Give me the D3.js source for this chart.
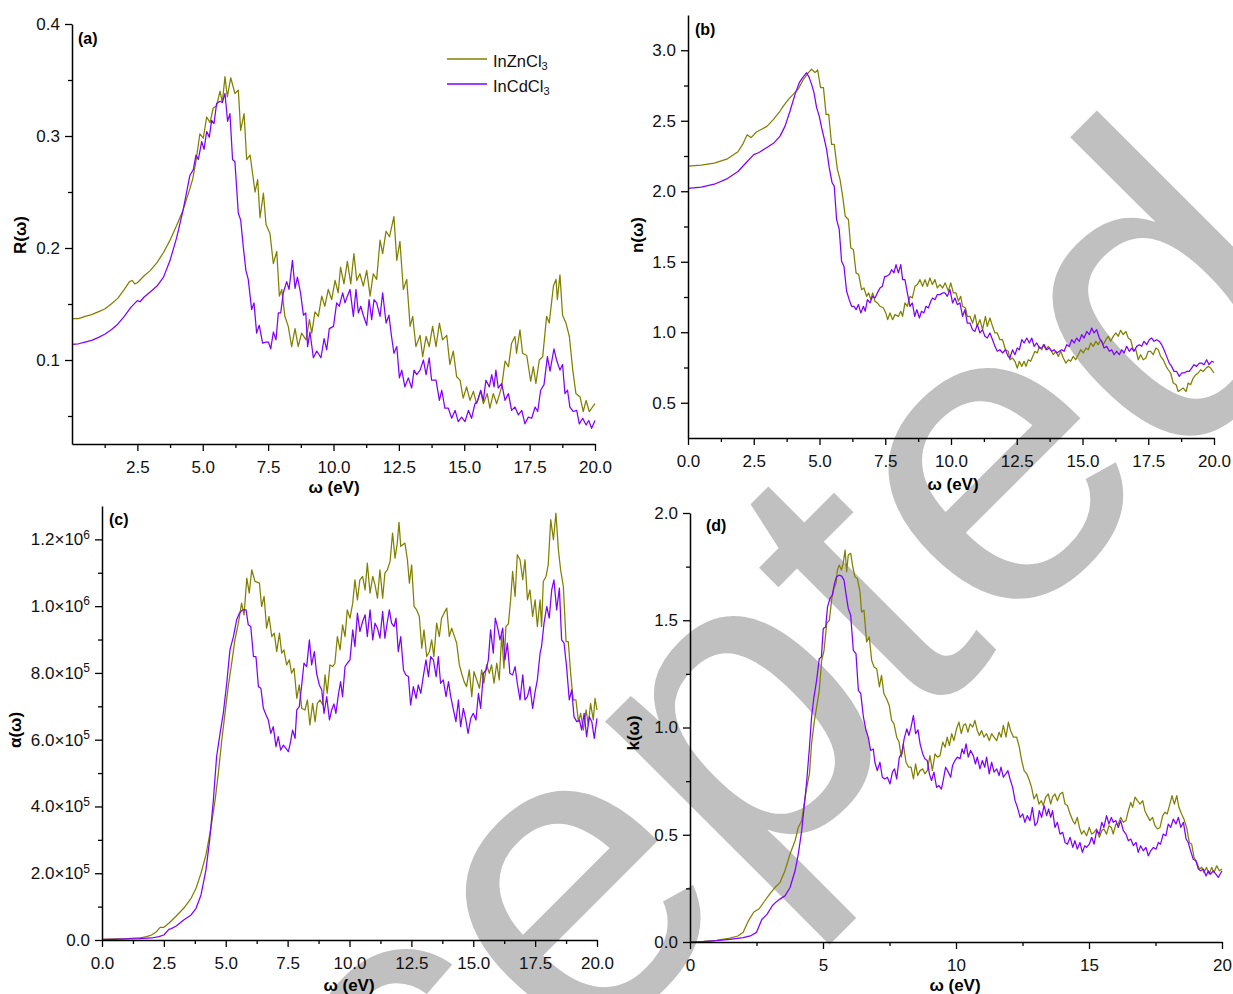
<!DOCTYPE html>
<html><head><meta charset="utf-8">
<script src="https://cdn.jsdelivr.net/npm/d3@7"></script>
<style>
body{margin:0;background:#fff}
svg{display:block}
text{font-family:"Liberation Sans",Arial,sans-serif}
</style></head><body>
<svg id="chart" width="1233" height="994"></svg>
<script>
// ---------------- DATA ([energy eV, value]) ----------------
const seriesNames = ["InZnCl3", "InCdCl3"];
const seriesColors = ["#808000", "#8000ff"];

const R_InZnCl3 = [[0,0.137],[0.25,0.137],[0.5,0.139],[0.75,0.1405],[1,0.143],[1.25,0.1455],[1.5,0.15],[1.75,0.155],[2,0.163],[2.2,0.17],[2.3,0.171],[2.4,0.168],[2.5,0.169],[2.75,0.175],[3,0.18],[3.25,0.187],[3.5,0.196],[3.75,0.207],[4,0.22],[4.25,0.234],[4.51,0.253],[4.62,0.262],[4.75,0.279],[4.89,0.302],[5.02,0.298],[5.15,0.317],[5.28,0.312],[5.4,0.325],[5.53,0.327],[5.66,0.34],[5.75,0.33],[5.85,0.353],[5.94,0.335],[6.07,0.352],[6.23,0.338],[6.36,0.341],[6.45,0.305],[6.58,0.32],[6.68,0.279],[6.81,0.283],[7,0.25],[7.1,0.261],[7.19,0.227],[7.32,0.249],[7.42,0.221],[7.57,0.213],[7.7,0.186],[7.83,0.197],[7.93,0.157],[8.02,0.163],[8.14,0.139],[8.27,0.13],[8.4,0.112],[8.53,0.128],[8.65,0.112],[8.78,0.124],[8.95,0.118],[9.08,0.136],[9.17,0.124],[9.29,0.143],[9.42,0.139],[9.55,0.157],[9.67,0.148],[9.8,0.163],[9.93,0.154],[10.06,0.171],[10.18,0.16],[10.27,0.183],[10.4,0.168],[10.53,0.188],[10.66,0.168],[10.78,0.195],[10.89,0.171],[11.01,0.177],[11.14,0.166],[11.27,0.18],[11.4,0.157],[11.52,0.177],[11.65,0.172],[11.78,0.207],[11.88,0.195],[12.01,0.215],[12.14,0.21],[12.31,0.228],[12.42,0.189],[12.54,0.206],[12.67,0.163],[12.8,0.172],[12.93,0.13],[13.03,0.139],[13.15,0.112],[13.31,0.122],[13.41,0.103],[13.54,0.121],[13.66,0.112],[13.79,0.13],[13.92,0.112],[14.05,0.133],[14.17,0.118],[14.33,0.122],[14.45,0.096],[14.58,0.108],[14.71,0.085],[14.84,0.082],[14.96,0.066],[15.09,0.076],[15.22,0.064],[15.35,0.072],[15.47,0.061],[15.63,0.072],[15.73,0.061],[15.88,0.07],[15.98,0.057],[16.11,0.07],[16.24,0.061],[16.43,0.076],[16.56,0.099],[16.69,0.094],[16.81,0.115],[16.94,0.121],[17,0.106],[17.13,0.127],[17.23,0.106],[17.39,0.104],[17.54,0.081],[17.64,0.094],[17.74,0.079],[17.87,0.1],[18,0.103],[18.15,0.139],[18.25,0.133],[18.41,0.166],[18.51,0.172],[18.56,0.154],[18.66,0.176],[18.76,0.14],[18.89,0.133],[19.02,0.121],[19.15,0.091],[19.27,0.07],[19.43,0.067],[19.55,0.054],[19.66,0.064],[19.78,0.054],[20,0.061]];

const R_InCdCl3 = [[0,0.114],[0.25,0.1145],[0.5,0.116],[0.75,0.1175],[1,0.12],[1.25,0.123],[1.5,0.127],[1.75,0.132],[2,0.139],[2.25,0.147],[2.5,0.153],[2.6,0.152],[2.75,0.156],[3,0.161],[3.25,0.166],[3.5,0.174],[3.75,0.189],[4,0.209],[4.25,0.234],[4.4,0.252],[4.51,0.265],[4.64,0.27],[4.74,0.283],[4.83,0.279],[4.96,0.295],[5.05,0.288],[5.15,0.304],[5.25,0.299],[5.34,0.314],[5.43,0.311],[5.53,0.329],[5.66,0.331],[5.75,0.33],[5.85,0.338],[5.95,0.313],[6.04,0.32],[6.14,0.279],[6.23,0.277],[6.36,0.231],[6.45,0.225],[6.55,0.201],[6.65,0.18],[6.74,0.172],[6.87,0.145],[6.96,0.151],[7.06,0.124],[7.16,0.131],[7.29,0.115],[7.42,0.116],[7.51,0.116],[7.6,0.11],[7.7,0.125],[7.8,0.118],[7.89,0.142],[7.98,0.142],[8.08,0.16],[8.21,0.17],[8.3,0.163],[8.43,0.189],[8.53,0.164],[8.62,0.174],[8.74,0.16],[8.85,0.14],[8.94,0.142],[9.01,0.112],[9.1,0.125],[9.23,0.102],[9.36,0.108],[9.52,0.102],[9.64,0.119],[9.74,0.109],[9.84,0.128],[10,0.13],[10.12,0.151],[10.22,0.148],[10.35,0.16],[10.44,0.151],[10.53,0.157],[10.63,0.163],[10.76,0.139],[10.86,0.163],[10.95,0.142],[11.04,0.148],[11.14,0.14],[11.27,0.131],[11.36,0.154],[11.46,0.136],[11.55,0.154],[11.65,0.151],[11.78,0.139],[11.88,0.16],[12.01,0.133],[12.12,0.14],[12.22,0.121],[12.31,0.106],[12.42,0.112],[12.52,0.084],[12.61,0.091],[12.73,0.076],[12.86,0.084],[12.99,0.075],[13.08,0.091],[13.18,0.087],[13.31,0.091],[13.44,0.1],[13.54,0.087],[13.66,0.102],[13.75,0.082],[13.92,0.082],[14.05,0.064],[14.14,0.073],[14.26,0.057],[14.39,0.057],[14.52,0.048],[14.65,0.055],[14.77,0.045],[14.9,0.049],[15.03,0.045],[15.16,0.055],[15.28,0.048],[15.41,0.061],[15.5,0.063],[15.63,0.073],[15.73,0.064],[15.83,0.082],[15.96,0.076],[16.05,0.087],[16.14,0.076],[16.21,0.091],[16.3,0.075],[16.43,0.079],[16.56,0.064],[16.69,0.07],[16.81,0.055],[16.94,0.058],[17.07,0.051],[17.2,0.055],[17.32,0.043],[17.45,0.049],[17.58,0.048],[17.71,0.058],[17.81,0.054],[17.92,0.073],[18.05,0.078],[18.18,0.103],[18.28,0.09],[18.43,0.11],[18.53,0.1],[18.66,0.091],[18.76,0.096],[18.85,0.07],[18.95,0.073],[19.04,0.058],[19.17,0.054],[19.3,0.055],[19.4,0.043],[19.53,0.048],[19.66,0.042],[19.76,0.046],[19.87,0.039],[20,0.046]];

const n_InZnCl3 = [[0,2.178],[0.5,2.185],[1,2.2],[1.5,2.23],[1.9,2.28],[2.1,2.34],[2.25,2.4],[2.4,2.38],[2.6,2.42],[2.8,2.44],[3,2.46],[3.25,2.51],[3.5,2.569],[3.63,2.605],[3.82,2.652],[4,2.687],[4.2,2.728],[4.39,2.794],[4.58,2.841],[4.7,2.865],[4.83,2.841],[4.93,2.86],[5.04,2.735],[5.15,2.735],[5.25,2.545],[5.35,2.545],[5.46,2.332],[5.56,2.332],[5.68,2.155],[5.78,2.084],[5.88,1.965],[5.98,1.823],[6.1,1.8],[6.19,1.598],[6.29,1.587],[6.39,1.421],[6.49,1.409],[6.6,1.302],[6.69,1.314],[6.79,1.255],[6.87,1.279],[6.95,1.231],[7.02,1.279],[7.11,1.22],[7.2,1.208],[7.3,1.184],[7.43,1.172],[7.52,1.137],[7.59,1.089],[7.68,1.137],[7.78,1.089],[7.87,1.125],[8,1.113],[8.09,1.149],[8.16,1.113],[8.25,1.208],[8.34,1.184],[8.44,1.255],[8.53,1.243],[8.63,1.326],[8.72,1.338],[8.82,1.373],[8.92,1.326],[9.01,1.373],[9.1,1.326],[9.2,1.385],[9.29,1.338],[9.39,1.373],[9.48,1.314],[9.58,1.338],[9.68,1.314],[9.78,1.35],[9.9,1.291],[9.99,1.35],[10.09,1.279],[10.19,1.279],[10.28,1.22],[10.37,1.255],[10.44,1.184],[10.55,1.172],[10.62,1.113],[10.72,1.113],[10.82,1.065],[10.91,1.125],[11,1.042],[11.1,1.089],[11.2,1.018],[11.31,1.113],[11.38,1.042],[11.48,1.101],[11.58,1.042],[11.67,0.995],[11.76,0.995],[11.86,0.947],[11.96,0.947],[12.07,0.876],[12.18,0.865],[12.24,0.805],[12.34,0.817],[12.43,0.794],[12.52,0.746],[12.6,0.794],[12.69,0.758],[12.78,0.794],[12.85,0.758],[12.94,0.805],[13.03,0.794],[13.11,0.829],[13.19,0.865],[13.28,0.853],[13.36,0.9],[13.45,0.876],[13.51,0.912],[13.61,0.876],[13.7,0.9],[13.79,0.876],[13.89,0.841],[13.99,0.865],[14.08,0.829],[14.17,0.865],[14.27,0.817],[14.37,0.781],[14.46,0.805],[14.55,0.794],[14.65,0.829],[14.74,0.805],[14.84,0.841],[14.93,0.876],[15.03,0.853],[15.13,0.888],[15.22,0.876],[15.31,0.924],[15.41,0.9],[15.51,0.936],[15.6,0.912],[15.69,0.947],[15.79,0.912],[15.89,0.947],[15.98,0.971],[16.07,0.936],[16.17,0.971],[16.27,0.995],[16.36,0.971],[16.45,1.014],[16.55,0.983],[16.65,1.006],[16.74,0.959],[16.83,0.947],[16.93,0.876],[17.03,0.876],[17.12,0.805],[17.21,0.841],[17.31,0.805],[17.41,0.817],[17.5,0.865],[17.59,0.865],[17.69,0.841],[17.79,0.888],[17.88,0.876],[17.97,0.829],[18.07,0.805],[18.18,0.758],[18.26,0.734],[18.35,0.711],[18.45,0.64],[18.56,0.628],[18.64,0.58],[18.73,0.592],[18.83,0.604],[18.94,0.58],[19.02,0.64],[19.11,0.628],[19.21,0.675],[19.31,0.699],[19.4,0.711],[19.49,0.734],[19.59,0.722],[19.7,0.746],[19.79,0.758],[19.87,0.746],[20,0.711]];

const n_InCdCl3 = [[0,2.02],[0.5,2.03],[1,2.05],[1.5,2.09],[1.9,2.14],[2.2,2.2],[2.5,2.26],[2.7,2.275],[3,2.31],[3.25,2.34],[3.5,2.391],[3.69,2.462],[3.88,2.569],[4.07,2.687],[4.23,2.77],[4.36,2.806],[4.51,2.841],[4.61,2.806],[4.7,2.758],[4.79,2.699],[4.89,2.593],[4.99,2.533],[5.08,2.451],[5.17,2.38],[5.27,2.297],[5.37,2.167],[5.48,2.06],[5.56,2.036],[5.65,1.8],[5.75,1.729],[5.84,1.504],[5.93,1.468],[6.03,1.291],[6.13,1.231],[6.22,1.184],[6.31,1.184],[6.39,1.16],[6.48,1.196],[6.57,1.137],[6.67,1.184],[6.74,1.149],[6.82,1.231],[6.92,1.208],[7.02,1.255],[7.11,1.243],[7.2,1.279],[7.3,1.314],[7.39,1.326],[7.48,1.397],[7.55,1.397],[7.66,1.409],[7.74,1.444],[7.83,1.421],[7.91,1.48],[8,1.421],[8.09,1.48],[8.16,1.373],[8.25,1.373],[8.34,1.279],[8.44,1.184],[8.53,1.208],[8.62,1.113],[8.7,1.16],[8.8,1.101],[8.88,1.149],[8.97,1.137],[9.05,1.184],[9.14,1.172],[9.23,1.22],[9.3,1.243],[9.39,1.231],[9.48,1.267],[9.58,1.267],[9.68,1.279],[9.77,1.279],[9.86,1.255],[9.96,1.302],[10.06,1.208],[10.15,1.243],[10.24,1.196],[10.34,1.208],[10.44,1.113],[10.53,1.16],[10.62,1.065],[10.72,1.065],[10.82,1.018],[10.91,1.006],[11,1.054],[11.1,0.995],[11.2,1.018],[11.29,0.971],[11.38,0.959],[11.48,0.995],[11.58,0.947],[11.67,0.9],[11.76,0.865],[11.86,0.876],[11.96,0.853],[12.07,0.876],[12.17,0.829],[12.24,0.817],[12.34,0.876],[12.43,0.841],[12.52,0.888],[12.6,0.876],[12.69,0.947],[12.78,0.924],[12.88,0.959],[12.98,0.924],[13.07,0.959],[13.16,0.9],[13.26,0.924],[13.36,0.888],[13.45,0.888],[13.54,0.912],[13.64,0.876],[13.74,0.888],[13.83,0.865],[13.92,0.876],[14.02,0.853],[14.12,0.865],[14.21,0.876],[14.3,0.865],[14.4,0.912],[14.5,0.9],[14.59,0.947],[14.68,0.924],[14.78,0.959],[14.88,0.936],[14.97,0.983],[15.06,0.959],[15.16,1.006],[15.26,0.983],[15.35,1.03],[15.44,0.995],[15.54,1.018],[15.64,0.959],[15.73,0.936],[15.82,0.888],[15.92,0.9],[16.02,0.865],[16.11,0.876],[16.2,0.841],[16.3,0.865],[16.4,0.841],[16.49,0.876],[16.58,0.853],[16.68,0.9],[16.78,0.865],[16.87,0.888],[16.96,0.865],[17.06,0.9],[17.16,0.912],[17.25,0.9],[17.34,0.936],[17.44,0.912],[17.54,0.947],[17.63,0.959],[17.72,0.936],[17.82,0.947],[17.92,0.936],[18.01,0.912],[18.1,0.876],[18.2,0.829],[18.3,0.781],[18.39,0.758],[18.48,0.722],[18.58,0.722],[18.68,0.687],[18.77,0.711],[18.86,0.711],[18.96,0.722],[19.06,0.722],[19.15,0.746],[19.24,0.77],[19.34,0.758],[19.44,0.781],[19.53,0.781],[19.62,0.77],[19.72,0.805],[19.81,0.77],[19.91,0.794],[20,0.787]];

// absorption coefficient, in units of 1e5
const alpha_InZnCl3 = [[0,0.02],[0.5,0.03],[1,0.04],[1.5,0.06],[1.8,0.1],[2,0.15],[2.2,0.25],[2.35,0.38],[2.5,0.38],[2.7,0.5],[3,0.72],[3.3,0.95],[3.6,1.25],[3.8,1.55],[4,2],[4.2,2.55],[4.4,3.35],[4.57,4.19],[4.7,4.99],[4.84,5.99],[4.97,6.79],[5.1,7.59],[5.24,8.29],[5.37,8.99],[5.51,9.49],[5.64,10.09],[5.74,9.74],[5.85,10.84],[5.95,10.39],[6.05,11.09],[6.18,10.74],[6.36,10.69],[6.45,9.99],[6.55,10.29],[6.65,9.34],[6.75,9.69],[6.86,9.09],[6.96,9.19],[7.06,8.64],[7.17,9.19],[7.26,8.59],[7.35,8.69],[7.46,8.24],[7.57,8.39],[7.66,7.99],[7.76,8.14],[7.87,7.24],[7.97,7.64],[8.07,6.94],[8.2,6.89],[8.3,7.19],[8.4,6.44],[8.51,7.09],[8.61,6.54],[8.7,7.09],[8.81,7.19],[8.92,7.04],[9.01,7.94],[9.1,7.39],[9.21,8.24],[9.32,8.19],[9.41,8.29],[9.51,9.09],[9.62,8.69],[9.72,9.44],[9.82,9.09],[9.91,9.89],[10.02,9.64],[10.13,10.09],[10.22,10.79],[10.32,10.19],[10.42,10.79],[10.53,10.89],[10.63,10.49],[10.72,11.29],[10.83,10.39],[10.94,10.89],[11.03,10.64],[11.13,10.24],[11.23,11.09],[11.34,10.24],[11.43,10.99],[11.53,11.09],[11.64,11.34],[11.74,12.19],[11.84,11.44],[11.93,11.89],[12,12.51],[12.07,11.79],[12.15,11.84],[12.24,11.89],[12.34,11.39],[12.42,10.69],[12.51,11.24],[12.61,9.99],[12.71,9.89],[12.82,9.69],[12.92,8.74],[13.01,9.29],[13.12,8.49],[13.23,8.64],[13.32,8.99],[13.41,8.49],[13.52,9.49],[13.63,9.09],[13.72,9.64],[13.82,9.79],[13.93,9.94],[14.03,9.09],[14.13,9.34],[14.22,9.14],[14.33,8.89],[14.44,8.24],[14.53,7.99],[14.63,7.74],[14.73,7.59],[14.84,8.09],[14.94,7.29],[15.03,8.04],[15.14,7.79],[15.25,7.54],[15.34,8.09],[15.43,7.69],[15.54,8.24],[15.65,7.99],[15.74,8.24],[15.84,7.69],[15.95,8.29],[16.05,7.79],[16.15,9.14],[16.24,8.14],[16.32,9.39],[16.42,9.47],[16.51,10.19],[16.59,11.04],[16.69,10.29],[16.78,11.54],[16.89,11.39],[17,10.79],[17.09,11.39],[17.19,10.19],[17.29,10.49],[17.4,9.69],[17.5,10.19],[17.59,9.39],[17.7,10.19],[17.76,9.39],[17.83,10.74],[17.94,10.89],[18.03,11.24],[18.13,12.59],[18.24,11.99],[18.34,12.79],[18.44,11.69],[18.53,11.09],[18.64,10.59],[18.75,8.94],[18.84,8.94],[18.94,7.94],[19.04,7.19],[19.15,7.19],[19.25,6.54],[19.34,6.79],[19.45,6.29],[19.56,6.89],[19.65,6.44],[19.74,7.09],[19.85,6.59],[19.92,7.24],[20,6.89]];

const alpha_InCdCl3 = [[0,0.02],[0.5,0.02],[1,0.03],[1.5,0.04],[2,0.06],[2.3,0.1],[2.5,0.15],[2.7,0.32],[2.8,0.34],[3,0.42],[3.3,0.6],[3.6,0.75],[3.8,0.95],[4,1.35],[4.2,2.1],[4.35,3],[4.5,4.19],[4.63,5.49],[4.77,6.19],[4.9,6.79],[5.04,7.69],[5.17,8.69],[5.31,9.09],[5.44,9.59],[5.55,9.79],[5.68,9.89],[5.82,9.89],[5.91,9.44],[6.01,9.39],[6.12,8.49],[6.22,8.49],[6.32,7.59],[6.42,7.54],[6.52,6.94],[6.63,6.74],[6.72,6.59],[6.82,6.19],[6.92,6.39],[7.03,5.79],[7.12,6.09],[7.22,5.69],[7.33,5.84],[7.43,5.74],[7.53,5.64],[7.62,5.94],[7.7,6.29],[7.8,6.04],[7.87,6.89],[7.97,6.99],[8.07,7.64],[8.16,8.29],[8.27,8.19],[8.38,8.99],[8.47,8.24],[8.58,8.64],[8.67,7.99],[8.78,7.64],[8.88,7.49],[8.97,6.79],[9.08,7.29],[9.19,6.59],[9.28,6.89],[9.37,7.07],[9.45,6.79],[9.55,7.34],[9.64,7.74],[9.72,7.29],[9.82,8.19],[9.91,8.29],[10.02,8.39],[10.13,9.29],[10.22,8.79],[10.32,9.79],[10.42,9.24],[10.53,9.54],[10.63,9.74],[10.72,9.09],[10.83,9.89],[10.94,8.99],[11.03,9.49],[11.13,9.34],[11.23,9.04],[11.34,9.84],[11.43,9.04],[11.53,9.54],[11.61,9.89],[11.7,9.49],[11.8,9.39],[11.88,9.64],[11.97,8.64],[12.07,9.09],[12.18,8.09],[12.28,7.94],[12.38,7.89],[12.47,7.04],[12.58,7.59],[12.69,7.24],[12.78,7.64],[12.88,7.39],[12.98,7.89],[13.09,8.39],[13.19,7.89],[13.28,8.49],[13.39,8.39],[13.5,7.89],[13.59,8.49],[13.68,7.69],[13.79,7.79],[13.9,7.29],[14,7.74],[14.09,7.29],[14.2,6.89],[14.3,6.54],[14.4,7.19],[14.49,6.39],[14.6,6.94],[14.69,6.64],[14.79,6.19],[14.9,6.64],[15,6.79],[15.11,6.59],[15.21,7.39],[15.3,6.94],[15.41,7.99],[15.52,8.09],[15.61,8.39],[15.7,9.29],[15.81,8.59],[15.89,9.64],[15.99,9.34],[16.08,8.99],[16.19,9.34],[16.28,8.39],[16.38,8.89],[16.48,7.99],[16.59,7.94],[16.69,8.19],[16.78,7.69],[16.89,7.19],[17,7.94],[17.09,7.19],[17.19,7.29],[17.29,7.59],[17.4,6.94],[17.5,7.44],[17.59,7.79],[17.7,8.59],[17.76,8.79],[17.86,9.49],[17.97,9.99],[18.07,9.64],[18.17,10.49],[18.26,10.79],[18.37,9.89],[18.48,10.54],[18.57,8.99],[18.67,8.89],[18.77,8.19],[18.88,7.19],[18.98,7.49],[19.07,6.69],[19.18,6.54],[19.29,6.59],[19.38,6.29],[19.48,6.79],[19.58,6.09],[19.69,6.69],[19.79,6.54],[19.89,6.04],[20,6.64]];

const k_InZnCl3 = [[0,0],[0.5,0.003],[1,0.008],[1.5,0.018],[1.8,0.028],[2,0.045],[2.2,0.1],[2.4,0.14],[2.6,0.155],[2.8,0.19],[3,0.224],[3.2,0.255],[3.38,0.277],[3.57,0.332],[3.76,0.41],[3.95,0.472],[4.07,0.534],[4.2,0.566],[4.29,0.643],[4.39,0.721],[4.49,0.784],[4.57,0.924],[4.67,1.025],[4.76,1.095],[4.86,1.173],[4.95,1.313],[5.04,1.36],[5.14,1.485],[5.24,1.5],[5.33,1.601],[5.41,1.648],[5.49,1.671],[5.54,1.734],[5.61,1.757],[5.69,1.734],[5.76,1.765],[5.83,1.827],[5.89,1.726],[5.95,1.804],[6.04,1.812],[6.12,1.749],[6.2,1.703],[6.29,1.695],[6.39,1.633],[6.45,1.539],[6.54,1.547],[6.64,1.399],[6.74,1.422],[6.83,1.313],[6.92,1.282],[7.02,1.274],[7.12,1.189],[7.2,1.243],[7.29,1.157],[7.39,1.134],[7.49,1.103],[7.58,1.033],[7.67,1.017],[7.77,0.955],[7.86,0.932],[7.94,0.862],[8.02,0.924],[8.12,0.838],[8.22,0.815],[8.31,0.815],[8.4,0.76],[8.48,0.83],[8.56,0.776],[8.65,0.799],[8.75,0.807],[8.83,0.784],[8.92,0.799],[9.02,0.869],[9.11,0.799],[9.21,0.877],[9.3,0.862],[9.4,0.869],[9.5,0.932],[9.59,0.908],[9.67,0.955],[9.75,0.916],[9.84,0.971],[9.92,0.939],[10.02,0.994],[10.11,1.025],[10.2,0.971],[10.28,1.01],[10.36,1.017],[10.45,0.978],[10.53,1.017],[10.63,1.002],[10.71,1.033],[10.8,0.986],[10.88,0.963],[10.96,0.986],[11.05,0.955],[11.15,0.971],[11.25,0.939],[11.34,0.971],[11.43,0.955],[11.53,0.939],[11.62,0.978],[11.7,0.955],[11.78,1.01],[11.88,0.955],[11.97,1.025],[12.05,0.986],[12.16,0.955],[12.28,0.955],[12.38,0.908],[12.47,0.846],[12.56,0.799],[12.66,0.784],[12.76,0.753],[12.84,0.721],[12.93,0.667],[13.03,0.69],[13.12,0.643],[13.21,0.659],[13.28,0.636],[13.37,0.675],[13.47,0.69],[13.56,0.643],[13.63,0.675],[13.72,0.69],[13.81,0.659],[13.91,0.69],[14.01,0.698],[14.1,0.643],[14.19,0.636],[14.29,0.597],[14.39,0.566],[14.47,0.55],[14.56,0.581],[14.64,0.534],[14.72,0.503],[14.81,0.519],[14.91,0.495],[15.01,0.534],[15.1,0.503],[15.19,0.511],[15.29,0.527],[15.39,0.488],[15.48,0.519],[15.56,0.527],[15.66,0.503],[15.75,0.542],[15.84,0.534],[15.91,0.503],[16.01,0.55],[16.1,0.55],[16.19,0.581],[16.29,0.558],[16.39,0.566],[16.48,0.612],[16.57,0.651],[16.64,0.628],[16.73,0.675],[16.82,0.659],[16.92,0.643],[17.02,0.659],[17.1,0.612],[17.19,0.589],[17.29,0.566],[17.39,0.581],[17.48,0.542],[17.57,0.527],[17.67,0.534],[17.77,0.589],[17.86,0.605],[17.94,0.597],[18.04,0.643],[18.12,0.682],[18.21,0.643],[18.3,0.682],[18.38,0.628],[18.48,0.597],[18.57,0.573],[18.67,0.534],[18.77,0.464],[18.86,0.456],[18.95,0.394],[19.05,0.371],[19.15,0.34],[19.24,0.348],[19.32,0.324],[19.42,0.348],[19.52,0.316],[19.61,0.348],[19.7,0.324],[19.8,0.355],[19.9,0.332],[20,0.34]];

const k_InCdCl3 = [[0,0],[0.5,0.002],[1,0.006],[1.5,0.012],[2,0.02],[2.3,0.03],[2.5,0.045],[2.7,0.105],[2.9,0.13],[3.1,0.17],[3.25,0.188],[3.38,0.2],[3.57,0.215],[3.76,0.254],[3.95,0.332],[4.07,0.41],[4.2,0.519],[4.29,0.628],[4.39,0.753],[4.49,0.908],[4.57,1.048],[4.66,1.142],[4.76,1.22],[4.86,1.321],[4.94,1.329],[5.01,1.461],[5.1,1.469],[5.17,1.562],[5.26,1.601],[5.35,1.617],[5.43,1.671],[5.51,1.703],[5.61,1.71],[5.7,1.706],[5.79,1.687],[5.86,1.625],[5.95,1.555],[6.04,1.524],[6.14,1.36],[6.24,1.344],[6.33,1.173],[6.42,1.158],[6.52,1.048],[6.62,0.986],[6.7,0.955],[6.79,0.893],[6.89,0.9],[6.95,0.838],[7.04,0.799],[7.14,0.838],[7.23,0.768],[7.32,0.76],[7.42,0.768],[7.52,0.737],[7.61,0.792],[7.69,0.807],[7.77,0.76],[7.87,0.862],[7.96,0.877],[8.05,0.947],[8.15,0.994],[8.23,0.963],[8.31,1.002],[8.4,1.056],[8.48,0.971],[8.57,0.989],[8.65,0.924],[8.75,0.877],[8.83,0.854],[8.92,0.846],[9,0.784],[9.08,0.753],[9.17,0.792],[9.27,0.721],[9.36,0.729],[9.45,0.713],[9.52,0.753],[9.61,0.815],[9.71,0.792],[9.8,0.768],[9.87,0.823],[9.96,0.846],[10.05,0.862],[10.15,0.854],[10.23,0.9],[10.3,0.877],[10.38,0.924],[10.46,0.862],[10.55,0.893],[10.65,0.869],[10.73,0.83],[10.8,0.862],[10.9,0.807],[10.99,0.846],[11.08,0.815],[11.15,0.862],[11.25,0.784],[11.34,0.838],[11.43,0.792],[11.53,0.807],[11.62,0.776],[11.69,0.815],[11.78,0.768],[11.87,0.784],[11.95,0.799],[12.03,0.76],[12.13,0.721],[12.22,0.659],[12.31,0.628],[12.41,0.581],[12.51,0.597],[12.59,0.558],[12.68,0.589],[12.78,0.566],[12.87,0.628],[12.97,0.542],[13.06,0.558],[13.13,0.612],[13.22,0.581],[13.31,0.636],[13.41,0.589],[13.48,0.62],[13.56,0.581],[13.63,0.612],[13.72,0.534],[13.81,0.558],[13.91,0.503],[14.01,0.511],[14.1,0.464],[14.19,0.456],[14.29,0.488],[14.39,0.441],[14.47,0.472],[14.56,0.433],[14.66,0.464],[14.75,0.418],[14.84,0.449],[14.91,0.441],[15.01,0.456],[15.1,0.488],[15.19,0.456],[15.29,0.519],[15.39,0.503],[15.48,0.558],[15.56,0.534],[15.66,0.589],[15.75,0.55],[15.84,0.581],[15.91,0.558],[16.01,0.566],[16.1,0.534],[16.19,0.566],[16.29,0.519],[16.39,0.503],[16.48,0.472],[16.57,0.48],[16.67,0.449],[16.77,0.464],[16.85,0.418],[16.94,0.449],[17.04,0.425],[17.14,0.441],[17.23,0.402],[17.32,0.425],[17.42,0.441],[17.52,0.433],[17.61,0.464],[17.69,0.456],[17.79,0.503],[17.89,0.495],[17.98,0.55],[18.07,0.534],[18.17,0.573],[18.27,0.55],[18.36,0.581],[18.45,0.534],[18.55,0.558],[18.65,0.48],[18.73,0.464],[18.82,0.425],[18.92,0.386],[19.02,0.379],[19.11,0.34],[19.2,0.332],[19.3,0.34],[19.4,0.308],[19.49,0.332],[19.57,0.316],[19.67,0.332],[19.77,0.316],[19.86,0.301],[20,0.332]];

// tick values / labels
const energyTicks = [0, 2.5, 5, 7.5, 10, 12.5, 15, 17.5, 20];
const energyTicksA = [2.5, 5, 7.5, 10, 12.5, 15, 17.5, 20];
const energyMinor = [1.25, 3.75, 6.25, 8.75, 11.25, 13.75, 16.25, 18.75];
const energyTicksD = [0, 5, 10, 15, 20];
const energyMinorD = [2.5, 7.5, 12.5, 17.5];
const rTicks = [0.1, 0.2, 0.3, 0.4];
const rMinor = [0.05, 0.15, 0.25, 0.35];
const nTicks = [0.5, 1.0, 1.5, 2.0, 2.5, 3.0];
const nMinor = [0.75, 1.25, 1.75, 2.25, 2.75];
const alphaTicks = [0, 2, 4, 6, 8, 10, 12];
const alphaMinor = [1, 3, 5, 7, 9, 11];
const alphaTickMantissa = ["0.0", "2.0", "4.0", "6.0", "8.0", "1.0", "1.2"];
const alphaTickExponent = ["", "5", "5", "5", "5", "6", "6"];
const kTicks = [0, 0.5, 1.0, 1.5, 2.0];
const kMinor = [0.25, 0.75, 1.25, 1.75];

// ---------------- DRAW ----------------
const svg = d3.select("#chart");
svg.append("rect").attr("width", 1233).attr("height", 994).attr("fill", "#fff");

// watermark (behind the plots)
svg.append("text")
  .attr("transform", "translate(70,1578) rotate(-45)")
  .attr("font-size", 430)
  .attr("fill", "#c0c0c0")
  .text("Accepted");

const FONT = "'Liberation Sans', Arial, sans-serif";

function drawPanel(p) {
  const x = d3.scaleLinear().domain(p.xDomain).range([p.left, p.right]);
  const y = d3.scaleLinear().domain(p.yDomain).range([p.bottom, p.top]);
  const line = d3.line().x(d => x(d[0])).y(d => y(d[1]));

  p.series.forEach((s, i) => {
    svg.append("path").datum(s)
      .attr("d", line)
      .attr("fill", "none")
      .attr("stroke", seriesColors[i])
      .attr("stroke-width", 1.25)
      .attr("stroke-linejoin", "round");
  });

  const styleAxis = g => {
    g.attr("font-size", 17).attr("font-family", FONT);
    g.selectAll("line").attr("stroke", "#000").attr("stroke-width", 1.3);
    g.selectAll(".domain").attr("stroke", "#000").attr("stroke-width", 1.5);
    g.selectAll("text").attr("fill", "#111");
  };

  // minor ticks
  svg.append("g").attr("transform", `translate(0,${p.bottom})`)
    .call(d3.axisBottom(x).tickValues(p.xMinor).tickFormat("").tickSize(4).tickSizeOuter(0))
    .call(g => g.select(".domain").remove()).call(styleAxis);
  svg.append("g").attr("transform", `translate(${p.left},0)`)
    .call(d3.axisLeft(y).tickValues(p.yMinor).tickFormat("").tickSize(4).tickSizeOuter(0))
    .call(g => g.select(".domain").remove()).call(styleAxis);

  // major axes
  svg.append("g").attr("transform", `translate(0,${p.bottom})`)
    .call(d3.axisBottom(x).tickValues(p.xTicks).tickFormat(p.xFmt).tickSize(7).tickSizeOuter(0).tickPadding(10))
    .call(styleAxis);
  const gy = svg.append("g").attr("transform", `translate(${p.left},0)`)
    .call(d3.axisLeft(y).tickValues(p.yTicks).tickFormat(p.yFmt).tickSize(7).tickSizeOuter(0).tickPadding(5))
    .call(styleAxis);
  if (p.yLabelFn) p.yLabelFn(gy);

  // axis titles
  svg.append("text").attr("x", p.xTitle[0]).attr("y", p.xTitle[1])
    .attr("text-anchor", "middle").attr("dy", "0.35em")
    .attr("font-size", 17).attr("font-weight", "bold").attr("font-family", FONT)
    .text("ω (eV)");
  svg.append("text").attr("transform", `translate(${p.yTitle[0]},${p.yTitle[1]}) rotate(-90)`)
    .attr("text-anchor", "middle").attr("dy", "0.35em")
    .attr("font-size", 17).attr("font-weight", "bold").attr("font-family", FONT)
    .text(p.yTitleText);
  // panel letter
  svg.append("text").attr("x", p.letterPos[0]).attr("y", p.letterPos[1])
    .attr("dy", "0.35em").attr("font-size", 16).attr("font-weight", "bold").attr("font-family", FONT)
    .text(p.letter);
}

const fmt1 = d => d.toFixed(1);

drawPanel({
  left: 72, right: 595, top: 24, bottom: 444,
  xDomain: [0, 20], yDomain: [0.025, 0.4],
  xTicks: energyTicksA, xMinor: energyMinor, yTicks: rTicks, yMinor: rMinor,
  xFmt: fmt1, yFmt: fmt1,
  series: [R_InZnCl3, R_InCdCl3],
  xTitle: [334, 487], yTitle: [20, 235], yTitleText: "R(ω)",
  letter: "(a)", letterPos: [78, 38]
});

drawPanel({
  left: 688, right: 1214, top: 15, bottom: 438,
  xDomain: [0, 20], yDomain: [0.25, 3.25],
  xTicks: energyTicks, xMinor: energyMinor, yTicks: nTicks, yMinor: nMinor,
  xFmt: fmt1, yFmt: fmt1,
  series: [n_InZnCl3, n_InCdCl3],
  xTitle: [953, 484], yTitle: [637, 235], yTitleText: "n(ω)",
  letter: "(b)", letterPos: [695, 29]
});

drawPanel({
  left: 102, right: 597, top: 506, bottom: 940,
  xDomain: [0, 20], yDomain: [0, 13],
  xTicks: energyTicks, xMinor: energyMinor, yTicks: alphaTicks, yMinor: alphaMinor,
  xFmt: fmt1, yFmt: d => "",
  series: [alpha_InZnCl3, alpha_InCdCl3],
  xTitle: [349, 985], yTitle: [15, 730], yTitleText: "α(ω)",
  letter: "(c)", letterPos: [109, 519],
  yLabelFn: gy => {
    gy.selectAll(".tick text").each(function(d) {
      const t = d3.select(this);
      const idx = alphaTicks.indexOf(d);
      t.text(null);
      if (alphaTickExponent[idx] === "") {
        t.append("tspan").text(alphaTickMantissa[idx]);
      } else {
        t.append("tspan").text(alphaTickMantissa[idx] + "×10");
        t.append("tspan").attr("font-size", 12).attr("dy", "-0.55em").text(alphaTickExponent[idx]);
      }
    });
  }
});

drawPanel({
  left: 690, right: 1222, top: 513, bottom: 942,
  xDomain: [0, 20], yDomain: [0, 2],
  xTicks: energyTicksD, xMinor: energyMinorD, yTicks: kTicks, yMinor: kMinor,
  xFmt: d => d3.format("d")(d), yFmt: fmt1,
  series: [k_InZnCl3, k_InCdCl3],
  xTitle: [955, 985], yTitle: [633, 733], yTitleText: "k(ω)",
  letter: "(d)", letterPos: [706, 525]
});

// legend (panel a)
const legendY = [59, 84];
seriesNames.forEach((name, i) => {
  svg.append("line").attr("x1", 447).attr("x2", 487).attr("y1", legendY[i]).attr("y2", legendY[i])
    .attr("stroke", seriesColors[i]).attr("stroke-width", 1.4);
  const t = svg.append("text").attr("x", 493).attr("y", legendY[i] + 8)
    .attr("font-size", 16.5).attr("font-family", FONT).attr("fill", "#111");
  t.append("tspan").text(name.slice(0, -1));
  t.append("tspan").attr("font-size", 11).attr("dy", 3).text(name.slice(-1));
});
</script>
</body></html>
